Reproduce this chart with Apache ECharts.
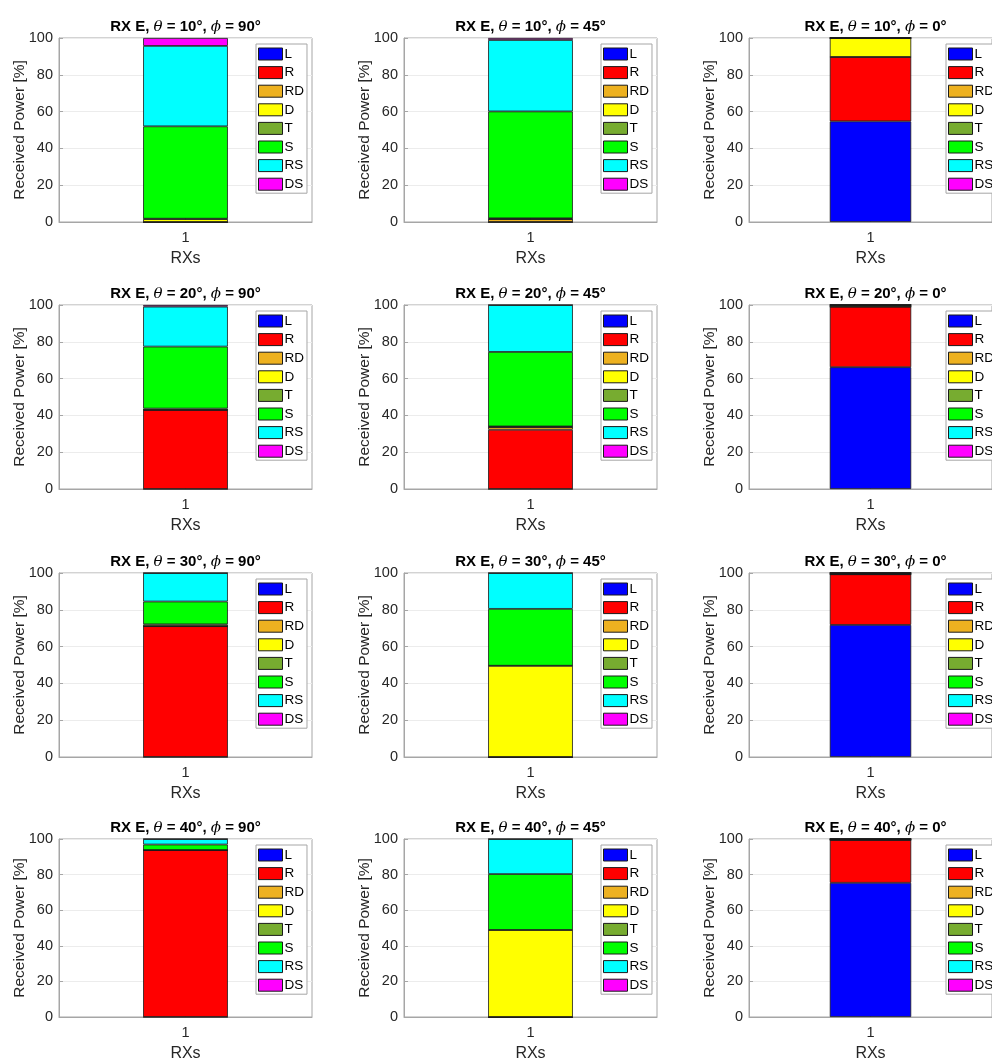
<!DOCTYPE html>
<html>
<head>
<meta charset="utf-8">
<script src="https://cdn.jsdelivr.net/npm/echarts@6/dist/echarts.min.js"></script>
<style>html,body{margin:0;padding:0;background:#fff;}#c{width:992px;height:1063px;}</style>
</head>
<body>
<div id="c"></div>
<script>
// Contribution names (stack order bottom -> top)
const components = ['L', 'R', 'RD', 'D', 'T', 'S', 'RS', 'DS'];
const componentColors = ['#0000FF', '#FF0000', '#EDB120', '#FFFF00', '#77AC30', '#00FF00', '#00FFFF', '#FF00FF'];
const xCategories = ['1'];
const thetas = [10, 20, 30, 40];
const phis = [90, 45, 0];
const yTicks = [0, 20, 40, 60, 80, 100];

// Received power [%] per component:      L     R     RD   D     T    S     RS    DS
const t10p90 = [0, 0, 0, 1.6, 0.2, 50.2, 43.7, 4.3];
const t10p45 = [0, 0, 1.6, 0, 0.4, 58.1, 38.8, 1.1];
const t10p0  = [54.7, 35.0, 0, 10.3, 0, 0, 0, 0];
const t20p90 = [0, 43.0, 0, 0, 0.7, 33.7, 21.7, 0.9];
const t20p45 = [0, 32.2, 1.5, 0, 0.3, 40.5, 25.5, 0];
const t20p0  = [66.2, 32.9, 0, 0, 0.9, 0, 0, 0];
const t30p90 = [0, 71.1, 0, 0, 1.0, 12.4, 15.5, 0];
const t30p45 = [0, 0, 0, 49.6, 0, 30.9, 19.5, 0];
const t30p0  = [71.8, 27.5, 0, 0, 0.7, 0, 0, 0];
const t40p90 = [0, 93.8, 0, 0, 0, 3.1, 3.1, 0];
const t40p45 = [0, 0, 0, 48.9, 0, 31.4, 19.7, 0];
const t40p0  = [75.4, 24.1, 0, 0, 0.5, 0, 0, 0];

const panelValues = [
  [t10p90, t10p45, t10p0],
  [t20p90, t20p45, t20p0],
  [t30p90, t30p45, t30p0],
  [t40p90, t40p45, t40p0]
];

// Layout (pixels)
const colLefts = [59, 404, 749];
const rowTops = [38, 305, 573, 839];
const plotW = 253;
const plotH = 184;

const FONT = '"Liberation Sans", Arial, Helvetica, sans-serif';
const SERIF = '"DejaVu Serif", "Liberation Serif", serif';
const grids = [], xAxes = [], yAxes = [], series = [], legends = [], graphics = [];

let gi = 0;
for (let r = 0; r < thetas.length; r++) {
  for (let c = 0; c < phis.length; c++) {
    const left = colLefts[c], top = rowTops[r];
    grids.push({ left: left, top: top, width: plotW, height: plotH, show: true,
      borderColor: '#a6a6a6', borderWidth: 1, backgroundColor: '#fff', containLabel: false });
    xAxes.push({ type: 'category', gridIndex: gi, data: xCategories,
      axisLine: { show: true, lineStyle: { color: '#a6a6a6' } },
      axisTick: { show: true, inside: true, alignWithLabel: true, length: 4, lineStyle: { color: '#a6a6a6' } },
      axisLabel: { fontSize: 14.5, color: '#262626', fontFamily: FONT, margin: 8 },
      name: 'RXs', nameLocation: 'middle', nameGap: 29,
      nameTextStyle: { fontSize: 16, color: '#262626', fontFamily: FONT } });
    yAxes.push({ type: 'value', gridIndex: gi, min: 0, max: 100, interval: 20,
      axisLine: { show: true, lineStyle: { color: '#a6a6a6' } },
      axisTick: { show: true, inside: true, length: 4, lineStyle: { color: '#a6a6a6' } },
      axisLabel: { fontSize: 14.5, color: '#262626', fontFamily: FONT, margin: 6,
        formatter: v => (yTicks.indexOf(v) >= 0 ? String(v) : '') },
      splitLine: { show: true, lineStyle: { color: '#ececec', width: 1 } },
      name: 'Received Power [%]', nameLocation: 'middle', nameGap: 31, nameMoveOverlap: false,
      nameTextStyle: { fontSize: 15.5, color: '#262626', fontFamily: FONT } });
    const vals = panelValues[r][c];
    components.forEach((name, k) => {
      series.push({ type: 'bar', name: name, xAxisIndex: gi, yAxisIndex: gi,
        stack: 'panel' + gi, data: [vals[k]], barWidth: '33.5%',
        itemStyle: { color: componentColors[k], borderColor: '#1a1a1a', borderWidth: 0.8 },
        emphasis: { disabled: true }, animation: false });
    });
    legends.push({ data: components, orient: 'vertical', left: left + 197, top: top + 6,
      icon: 'rect',
      itemWidth: 24, itemHeight: 12, itemGap: 4.6, padding: [3, 3, 2, 2],
      borderColor: '#a6a6a6', borderWidth: 1, backgroundColor: '#fff',
      selectedMode: false,
      itemStyle: { borderColor: '#1a1a1a', borderWidth: 1 },
      textStyle: { fontSize: 13.5, color: '#000', fontFamily: FONT, padding: [0, 0, 0, -3] } });
    graphics.push({ type: 'text', x: left + plotW / 2, y: top - 11,
      style: { text: '{b|RX E, }{g|θ}{b| = ' + thetas[r] + '°, }{g|ϕ}{b| = ' + phis[c] + '°}',
        align: 'center', verticalAlign: 'middle',
        rich: {
          b: { fontSize: 15, fontWeight: 'bold', fontFamily: FONT, fill: '#000' },
          g: { fontSize: 15, fontStyle: 'italic', fontFamily: SERIF, fill: '#000' }
        } } });
    gi++;
  }
}

const chart = echarts.init(document.getElementById('c'), null, { renderer: 'canvas' });
chart.setOption({
  animation: false,
  backgroundColor: '#fff',
  grid: grids, xAxis: xAxes, yAxis: yAxes, series: series, legend: legends, graphic: graphics
});
</script>
</body>
</html>
